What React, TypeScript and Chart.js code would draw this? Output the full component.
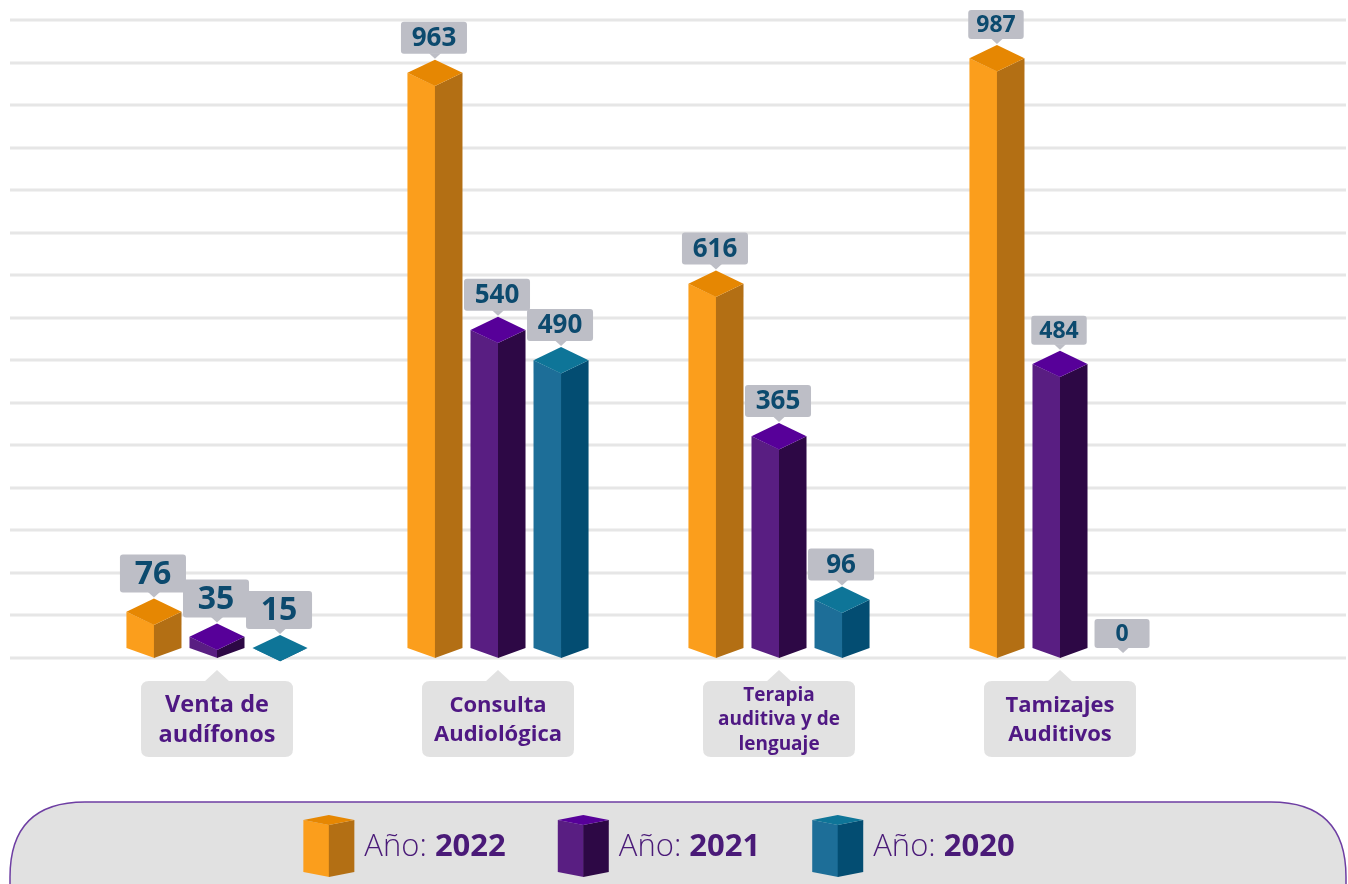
import React, { useEffect, useRef } from 'react';
import { Chart, registerables } from 'chart.js';

Chart.register(...registerables);

// ---------- data ----------
const categories: string[][] = [
  ['Venta de', 'audífonos'],
  ['Consulta', 'Audiológica'],
  ['Terapia', 'auditiva y de', 'lenguaje'],
  ['Tamizajes', 'Auditivos'],
];
const years = ['2022', '2021', '2020'];
const values2022 = [76, 963, 616, 987];
const values2021 = [35, 540, 365, 484];
const values2020 = [15, 490, 96, 0];
const gridMax = 1050;
const gridStep = 70;

// ---------- styles ----------
const palette = [
  { front: '#fb9e1c', side: '#b36f14', top: '#e68702' },
  { front: '#591e82', side: '#2d0845', top: '#570099' },
  { front: '#1d6e98', side: '#034d72', top: '#0e7598' },
];
const catFontSizes = [23.5, 22, 19, 22];
const catFontWeights = [700, 700, 700, 700];
const catLineHeights = [30, 29, 24.5, 29];
const valueFontSizes = [32, 26, 26, 23];
const FONT = "'Open Sans', 'Noto Sans', sans-serif";

function roundRect(ctx: CanvasRenderingContext2D, x: number, y: number, w: number, h: number, r: number) {
  ctx.beginPath();
  ctx.moveTo(x + r, y);
  ctx.lineTo(x + w - r, y);
  ctx.quadraticCurveTo(x + w, y, x + w, y + r);
  ctx.lineTo(x + w, y + h - r);
  ctx.quadraticCurveTo(x + w, y + h, x + w - r, y + h);
  ctx.lineTo(x + r, y + h);
  ctx.quadraticCurveTo(x, y + h, x, y + h - r);
  ctx.lineTo(x, y + r);
  ctx.quadraticCurveTo(x, y, x + r, y);
  ctx.closePath();
}

function prism(
  ctx: CanvasRenderingContext2D,
  cx: number,
  w: number,
  topY: number,
  baseY: number,
  d: number,
  dBottom: number,
  c: { front: string; side: string; top: string }
) {
  const L = cx - w / 2;
  const R = cx + w / 2;
  const bottomCorner = baseY - dBottom;
  if (topY > bottomCorner) topY = bottomCorner;
  ctx.fillStyle = c.front;
  ctx.beginPath();
  ctx.moveTo(L, topY);
  ctx.lineTo(cx + 0.5, topY + d);
  ctx.lineTo(cx + 0.5, baseY);
  ctx.lineTo(L, bottomCorner);
  ctx.closePath();
  ctx.fill();
  ctx.fillStyle = c.side;
  ctx.beginPath();
  ctx.moveTo(cx, topY + d);
  ctx.lineTo(R, topY);
  ctx.lineTo(R, bottomCorner);
  ctx.lineTo(cx, baseY);
  ctx.closePath();
  ctx.fill();
  ctx.fillStyle = c.top;
  ctx.beginPath();
  ctx.moveTo(L, topY);
  ctx.lineTo(cx, topY - d);
  ctx.lineTo(R, topY);
  ctx.lineTo(cx, topY + d);
  ctx.closePath();
  ctx.fill();
}

const infographicPlugin = {
  id: 'infographic',
  beforeDatasetsDraw(chart: any) {
    const ctx: CanvasRenderingContext2D = chart.ctx;
    const y = chart.scales.y;
    ctx.save();
    ctx.strokeStyle = '#e6e6e6';
    ctx.lineWidth = 3;
    for (let v = 0; v <= gridMax; v += gridStep) {
      const py = Math.round(y.getPixelForValue(v));
      ctx.beginPath();
      ctx.moveTo(10, py);
      ctx.lineTo(chart.width - 2, py);
      ctx.stroke();
    }
    ctx.restore();
  },
  afterDatasetsDraw(chart: any) {
    const ctx: CanvasRenderingContext2D = chart.ctx;
    const yScale = chart.scales.y;
    const xScale = chart.scales.x;
    const base = yScale.getPixelForValue(0);
    ctx.save();
    // bars
    chart.data.datasets.forEach((ds: any, di: number) => {
      const meta = chart.getDatasetMeta(di);
      meta.data.forEach((bar: any, i: number) => {
        const v = ds.data[i];
        if (v <= 0) return;
        const w = bar.width;
        const d = w * 0.24;
        prism(ctx, bar.x, w, bar.y, base, d, d * 0.75, palette[di]);
      });
    });
    // value labels
    chart.data.datasets.forEach((ds: any, di: number) => {
      const meta = chart.getDatasetMeta(di);
      meta.data.forEach((bar: any, i: number) => {
        const v = ds.data[i];
        const w = bar.width;
        const d = w * 0.24;
        const fs = valueFontSizes[i];
        const anchor = v > 0 ? Math.min(bar.y, base - d * 0.75) - d - 1 : base - 5;
        const txt = String(v);
        ctx.font = `700 ${fs}px ${FONT}`;
        const tw = ctx.measureText(txt).width;
        const bw = Math.max(tw + 16, w + (fs >= 26 ? 11 : 0));
        const bh = fs + 6;
        const bx = bar.x - bw / 2 - 1;
        const by = anchor - 5 - bh;
        ctx.fillStyle = '#bdbec6';
        roundRect(ctx, bx, by, bw, bh, 3);
        ctx.fill();
        ctx.beginPath();
        ctx.moveTo(bar.x - 6, by + bh - 0.5);
        ctx.lineTo(bar.x, anchor);
        ctx.lineTo(bar.x + 6, by + bh - 0.5);
        ctx.closePath();
        ctx.fill();
        ctx.fillStyle = '#0c4a6e';
        ctx.textAlign = 'center';
        ctx.textBaseline = 'middle';
        ctx.fillText(txt, bar.x - 1, by + bh / 2 + 1);
      });
    });
    // category label boxes
    categories.forEach((lines, i) => {
      const cx = xScale.getPixelForValue(i);
      const bw = 152;
      const bh = 76;
      const top = base + 23;
      ctx.fillStyle = '#e2e2e2';
      roundRect(ctx, cx - bw / 2, top, bw, bh, 8);
      ctx.fill();
      ctx.beginPath();
      ctx.moveTo(cx - 13, top + 1);
      ctx.lineTo(cx, top - 11);
      ctx.lineTo(cx + 13, top + 1);
      ctx.closePath();
      ctx.fill();
      ctx.fillStyle = '#4f1883';
      ctx.font = `${catFontWeights[i]} ${catFontSizes[i]}px ${FONT}`;
      ctx.textAlign = 'center';
      ctx.textBaseline = 'middle';
      const lh = catLineHeights[i];
      const mid = top + bh / 2 + 1;
      lines.forEach((ln, k) => {
        ctx.fillText(ln, cx, mid + (k - (lines.length - 1) / 2) * lh);
      });
    });
    ctx.restore();
  },
  afterDraw(chart: any) {
    const ctx: CanvasRenderingContext2D = chart.ctx;
    ctx.save();
    // legend pill
    const left = 10, top = 802, right = chart.width - 2, bottom = 960, r = 75;
    ctx.beginPath();
    ctx.moveTo(left + r, top);
    ctx.lineTo(right - r, top);
    ctx.quadraticCurveTo(right, top, right, top + r);
    ctx.lineTo(right, bottom - r);
    ctx.quadraticCurveTo(right, bottom, right - r, bottom);
    ctx.lineTo(left + r, bottom);
    ctx.quadraticCurveTo(left, bottom, left, bottom - r);
    ctx.lineTo(left, top + r);
    ctx.quadraticCurveTo(left, top, left + r, top);
    ctx.closePath();
    ctx.fillStyle = '#e1e1e1';
    ctx.fill();
    ctx.strokeStyle = '#6e3ea3';
    ctx.lineWidth = 1.5;
    ctx.stroke();
    // legend items
    const fs = 31;
    const iconW = 51;
    const gapIcon = 10;
    const gapItem = 52;
    const widths = years.map((yr) => {
      ctx.font = `300 ${fs}px ${FONT}`;
      const a = ctx.measureText('Año: ').width;
      ctx.font = `700 ${fs}px ${FONT}`;
      const b = ctx.measureText(yr).width;
      return { a, b };
    });
    const total =
      widths.reduce((s, w) => s + iconW + gapIcon + w.a + w.b, 0) + gapItem * (years.length - 1);
    let x = 659 - total / 2;
    const cy = 847;
    years.forEach((yr, i) => {
      const cx = x + iconW / 2;
      const c = palette[i];
      const t = 820, b = 877, d = 5;
      const L = x, R = x + iconW;
      ctx.fillStyle = c.front;
      ctx.beginPath();
      ctx.moveTo(L, t); ctx.lineTo(cx + 0.5, t + d); ctx.lineTo(cx + 0.5, b); ctx.lineTo(L, b - d);
      ctx.closePath(); ctx.fill();
      ctx.fillStyle = c.side;
      ctx.beginPath();
      ctx.moveTo(cx, t + d); ctx.lineTo(R, t); ctx.lineTo(R, b - d); ctx.lineTo(cx, b);
      ctx.closePath(); ctx.fill();
      ctx.fillStyle = c.top;
      ctx.beginPath();
      ctx.moveTo(L, t); ctx.lineTo(cx, t - d); ctx.lineTo(R, t); ctx.lineTo(cx, t + d);
      ctx.closePath(); ctx.fill();
      let tx = x + iconW + gapIcon;
      ctx.fillStyle = '#4a1a78';
      ctx.textAlign = 'left';
      ctx.textBaseline = 'middle';
      ctx.font = `300 ${fs}px ${FONT}`;
      ctx.fillText('Año: ', tx, cy);
      tx += widths[i].a;
      ctx.font = `700 ${fs}px ${FONT}`;
      ctx.fillText(yr, tx, cy);
      x += iconW + gapIcon + widths[i].a + widths[i].b + gapItem;
    });
    ctx.restore();
  },
};

export default function App() {
  const ref = useRef<HTMLCanvasElement | null>(null);
  useEffect(() => {
    if (!ref.current) return;
    const chart = new Chart(ref.current, {
      type: 'bar',
      data: {
        labels: categories.map((c) => c.join(' ')),
        datasets: [values2022, values2021, values2020].map((vals, i) => ({
          label: 'Año: ' + years[i],
          data: vals,
          backgroundColor: 'rgba(0,0,0,0)',
          borderWidth: 0,
          categoryPercentage: 0.673,
          barPercentage: 0.873,
        })),
      },
      options: {
        responsive: false,
        animation: false,
        devicePixelRatio: 1,
        layout: { padding: { left: 76.5, right: 147.5, top: 20, bottom: 226 } },
        plugins: { legend: { display: false }, tooltip: { enabled: false } },
        scales: {
          x: { display: false },
          y: { display: false, min: 0, max: gridMax, ticks: { stepSize: gridStep } },
        },
      },
      plugins: [infographicPlugin],
    });
    return () => chart.destroy();
  }, []);
  return (
    <div style={{ position: 'fixed', left: 0, top: 0, width: 1348, height: 884, background: '#ffffff', overflow: 'hidden' }}>
      <canvas ref={ref} width={1348} height={884} style={{ display: 'block' }} />
    </div>
  );
}
